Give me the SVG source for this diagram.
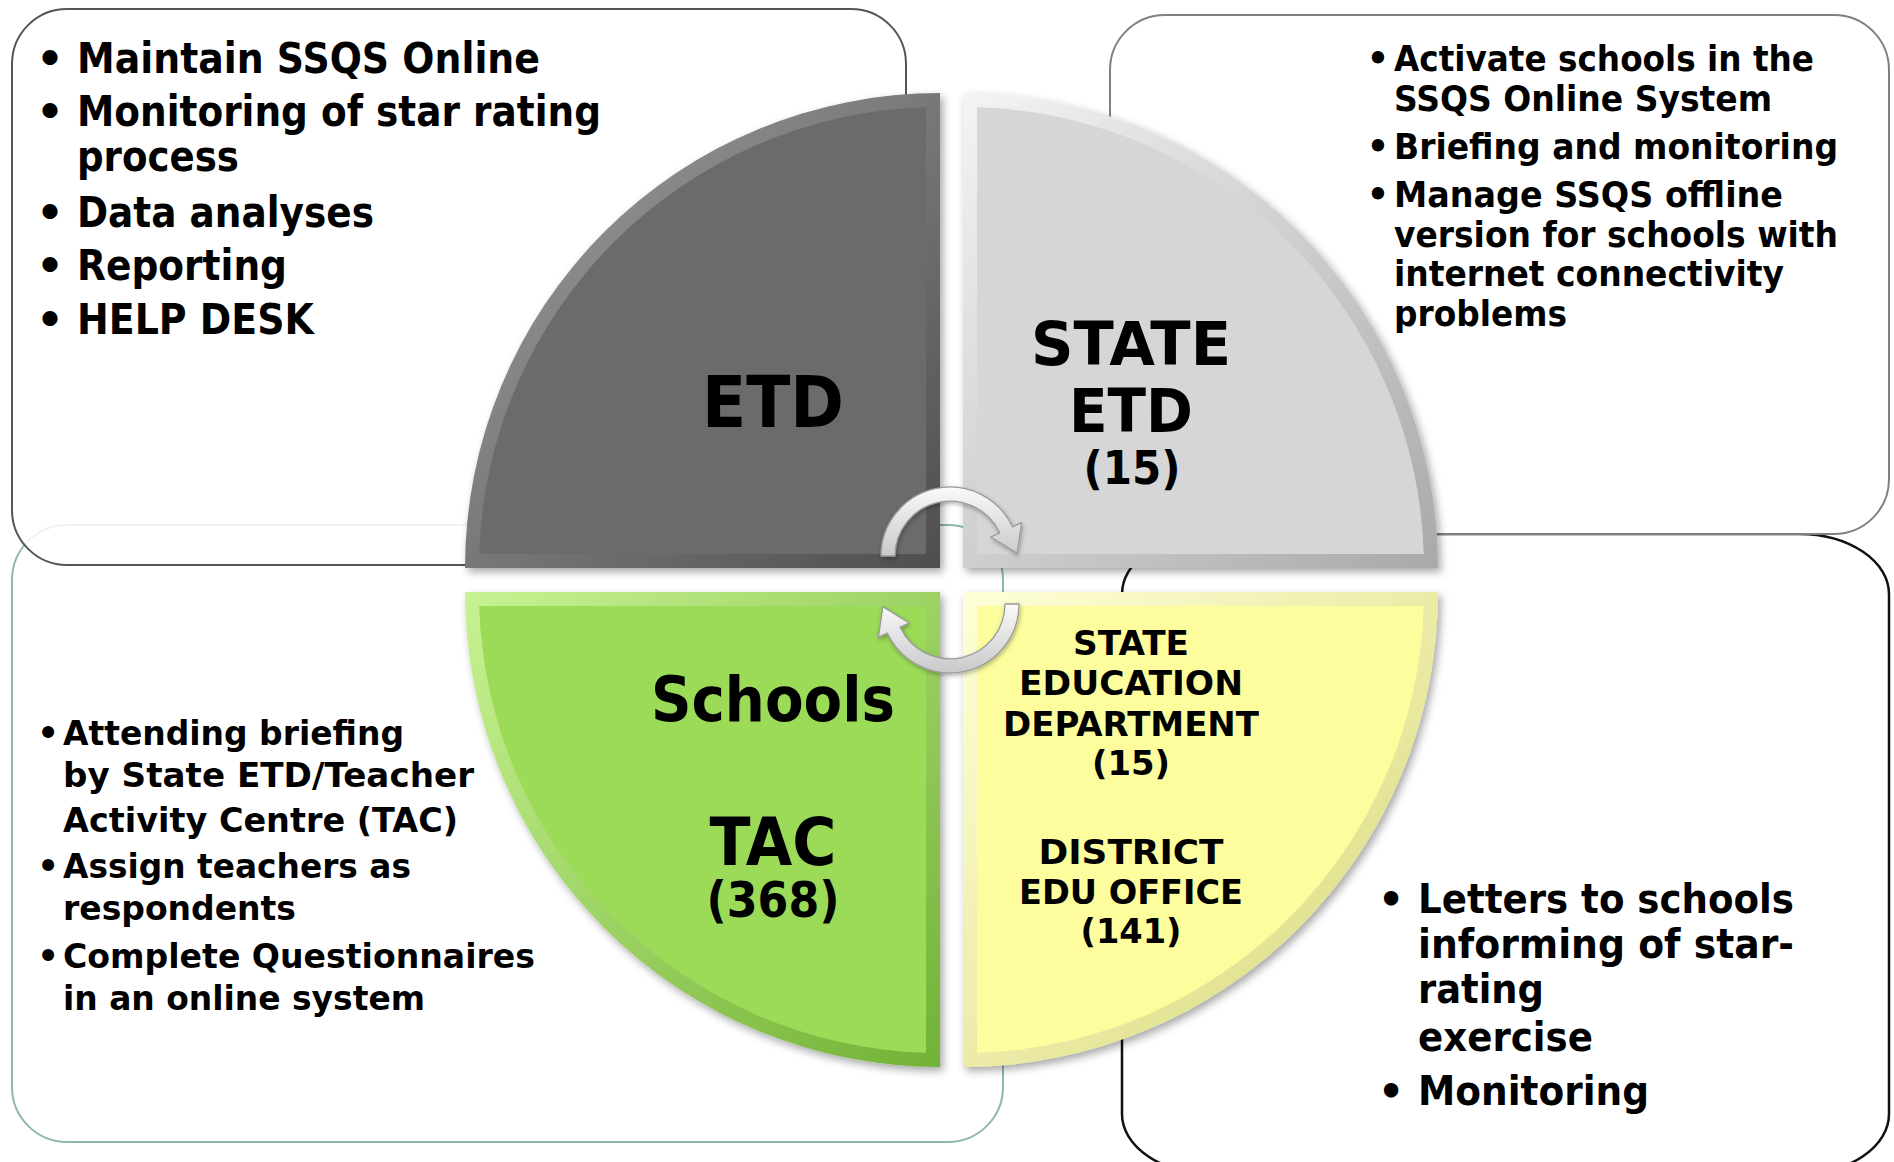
<svg xmlns="http://www.w3.org/2000/svg" width="1894" height="1162" viewBox="0 0 1894 1162">
<defs>
<style>
.t{font-family:"DejaVu Sans","Liberation Sans",sans-serif;font-weight:bold;fill:#000}
.s43{font-size:43px}.s35{font-size:35px}.s34{font-size:34px}.s41{font-size:41px}
.lbl{text-anchor:middle}
.box{fill:#fff}
.arrow{fill:url(#gArrow);stroke:#9a9a9a;stroke-width:1.3;stroke-linejoin:round}
</style>
<linearGradient id="gEtd" x1="0" y1="0" x2="1" y2="1"><stop offset="0" stop-color="#a2a2a2"/><stop offset="1" stop-color="#4e4e4e"/></linearGradient>
<linearGradient id="gState" x1="0" y1="0" x2="1" y2="1"><stop offset="0" stop-color="#f4f4f4"/><stop offset="1" stop-color="#a9a9a9"/></linearGradient>
<linearGradient id="gGreen" x1="0" y1="0" x2="1" y2="1"><stop offset="0" stop-color="#c8f292"/><stop offset="1" stop-color="#72b236"/></linearGradient>
<linearGradient id="gYellow" x1="0" y1="0" x2="1" y2="1"><stop offset="0" stop-color="#ffffd8"/><stop offset="1" stop-color="#d8d878"/></linearGradient>
<linearGradient id="gArrow" x1="0" y1="0" x2="0" y2="1"><stop offset="0" stop-color="#fafafa"/><stop offset="1" stop-color="#c9c9c9"/></linearGradient>
<filter id="sh" x="-10%" y="-10%" width="120%" height="120%"><feDropShadow dx="3" dy="4" stdDeviation="4" flood-color="#000" flood-opacity="0.35"/></filter>
<filter id="shs" x="-10%" y="-10%" width="120%" height="120%"><feDropShadow dx="1" dy="2" stdDeviation="2" flood-color="#000" flood-opacity="0.3"/></filter>
</defs>
<rect width="1894" height="1162" fill="#fff"/>

<g id="box-sed-tasks">
<rect class="box" x="1122" y="534" width="767" height="640" rx="90" ry="60" stroke="#111" stroke-width="2.5"/>
<text class="t s41" x="1391" y="913" text-anchor="middle">•</text>
<text class="t s41" x="1418" y="913" textLength="376" lengthAdjust="spacingAndGlyphs">Letters to schools</text>
<text class="t s41" x="1418" y="958" textLength="376" lengthAdjust="spacingAndGlyphs">informing of star-</text>
<text class="t s41" x="1418" y="1003" textLength="126" lengthAdjust="spacingAndGlyphs">rating</text>
<text class="t s41" x="1418" y="1051" textLength="175" lengthAdjust="spacingAndGlyphs">exercise</text>
<text class="t s41" x="1391" y="1105" text-anchor="middle">•</text>
<text class="t s41" x="1418" y="1105" textLength="231" lengthAdjust="spacingAndGlyphs">Monitoring</text>
</g>

<g id="box-schools-tasks">
<rect class="box" x="12" y="525" width="991" height="617" rx="55" stroke="#8fb7b2" stroke-width="2"/>
<text class="t s34" x="48" y="745" text-anchor="middle">•</text>
<text class="t s34" x="63" y="745" textLength="341" lengthAdjust="spacingAndGlyphs">Attending briefing</text>
<text class="t s34" x="63" y="787" textLength="411" lengthAdjust="spacingAndGlyphs">by State ETD/Teacher</text>
<text class="t s34" x="63" y="832" textLength="395" lengthAdjust="spacingAndGlyphs">Activity Centre (TAC)</text>
<text class="t s34" x="48" y="878" text-anchor="middle">•</text>
<text class="t s34" x="63" y="878" textLength="348" lengthAdjust="spacingAndGlyphs">Assign teachers as</text>
<text class="t s34" x="63" y="920" textLength="233" lengthAdjust="spacingAndGlyphs">respondents</text>
<text class="t s34" x="48" y="968" text-anchor="middle">•</text>
<text class="t s34" x="63" y="968" textLength="472" lengthAdjust="spacingAndGlyphs">Complete Questionnaires</text>
<text class="t s34" x="63" y="1010" textLength="362" lengthAdjust="spacingAndGlyphs">in an online system</text>
</g>

<g id="box-state-etd-tasks">
<rect class="box" x="1110" y="15" width="779" height="519" rx="55" stroke="#808080" stroke-width="2"/>
<text class="t s35" x="1378" y="71" text-anchor="middle">•</text>
<text class="t s35" x="1394" y="71" textLength="420" lengthAdjust="spacingAndGlyphs">Activate schools in the</text>
<text class="t s35" x="1394" y="111" textLength="378" lengthAdjust="spacingAndGlyphs">SSQS Online System</text>
<text class="t s35" x="1378" y="159" text-anchor="middle">•</text>
<text class="t s35" x="1394" y="159" textLength="444" lengthAdjust="spacingAndGlyphs">Briefing and monitoring</text>
<text class="t s35" x="1378" y="207" text-anchor="middle">•</text>
<text class="t s35" x="1394" y="207" textLength="389" lengthAdjust="spacingAndGlyphs">Manage SSQS offline</text>
<text class="t s35" x="1394" y="247" textLength="444" lengthAdjust="spacingAndGlyphs">version for schools with</text>
<text class="t s35" x="1394" y="286" textLength="390" lengthAdjust="spacingAndGlyphs">internet connectivity</text>
<text class="t s35" x="1394" y="326" textLength="173" lengthAdjust="spacingAndGlyphs">problems</text>
</g>

<g id="box-etd-tasks">
<rect x="12" y="9" width="894" height="556" rx="55" fill="#fff" fill-opacity="0.85" stroke="#555" stroke-width="2"/>
<text class="t s43" x="50" y="73" text-anchor="middle">•</text>
<text class="t s43" x="77" y="73" textLength="463" lengthAdjust="spacingAndGlyphs">Maintain SSQS Online</text>
<text class="t s43" x="50" y="126" text-anchor="middle">•</text>
<text class="t s43" x="77" y="126" textLength="524" lengthAdjust="spacingAndGlyphs">Monitoring of star rating</text>
<text class="t s43" x="77" y="171" textLength="162" lengthAdjust="spacingAndGlyphs">process</text>
<text class="t s43" x="50" y="227" text-anchor="middle">•</text>
<text class="t s43" x="77" y="227" textLength="297" lengthAdjust="spacingAndGlyphs">Data analyses</text>
<text class="t s43" x="50" y="280" text-anchor="middle">•</text>
<text class="t s43" x="77" y="280" textLength="210" lengthAdjust="spacingAndGlyphs">Reporting</text>
<text class="t s43" x="50" y="334" text-anchor="middle">•</text>
<text class="t s43" x="77" y="334" textLength="237" lengthAdjust="spacingAndGlyphs">HELP DESK</text>
</g>

<g id="node-etd">
<path d="M940,568 L465,568 A475,475 0 0 1 940,93 Z" fill="url(#gEtd)" filter="url(#sh)"/>
<path d="M926,554 L479.2,554 A461,461 0 0 1 926,107.2 Z" fill="#6b6b6b"/>
<text class="t lbl" x="773" y="427" font-size="71" textLength="142" lengthAdjust="spacingAndGlyphs">ETD</text>
</g>

<g id="node-state-etd">
<path d="M963,568 L963,93 A475,475 0 0 1 1438,568 Z" fill="url(#gState)" filter="url(#sh)"/>
<path d="M977,554 L977,107.2 A461,461 0 0 1 1423.8,554 Z" fill="#d6d6d6"/>
<text class="t lbl" x="1131" y="365" font-size="60" textLength="200" lengthAdjust="spacingAndGlyphs">STATE</text>
<text class="t lbl" x="1131" y="432" font-size="60" textLength="124" lengthAdjust="spacingAndGlyphs">ETD</text>
<text class="t lbl" x="1132" y="484" font-size="46" textLength="97" lengthAdjust="spacingAndGlyphs">(15)</text>
</g>

<g id="node-schools">
<path d="M940,592 L940,1067 A475,475 0 0 1 465,592 Z" fill="url(#gGreen)" filter="url(#sh)"/>
<path d="M926,606 L926,1052.8 A461,461 0 0 1 479.2,606 Z" fill="#9bdb58"/>
<text class="t lbl" x="773" y="721" font-size="62" textLength="244" lengthAdjust="spacingAndGlyphs">Schools</text>
<text class="t lbl" x="773" y="865" font-size="66" textLength="127" lengthAdjust="spacingAndGlyphs">TAC</text>
<text class="t lbl" x="773" y="917" font-size="50" textLength="133" lengthAdjust="spacingAndGlyphs">(368)</text>
</g>

<g id="node-sed">
<path d="M963,592 L1438,592 A475,475 0 0 1 963,1067 Z" fill="url(#gYellow)" filter="url(#sh)"/>
<path d="M977,606 L1423.8,606 A461,461 0 0 1 977,1052.8 Z" fill="#fdfd9e"/>
<text class="t lbl" x="1131" y="655" font-size="34" textLength="116" lengthAdjust="spacingAndGlyphs">STATE</text>
<text class="t lbl" x="1131" y="695" font-size="34" textLength="224" lengthAdjust="spacingAndGlyphs">EDUCATION</text>
<text class="t lbl" x="1131" y="736" font-size="34" textLength="256" lengthAdjust="spacingAndGlyphs">DEPARTMENT</text>
<text class="t lbl" x="1131" y="775" font-size="34" textLength="78" lengthAdjust="spacingAndGlyphs">(15)</text>
<text class="t lbl" x="1131" y="864" font-size="34" textLength="185" lengthAdjust="spacingAndGlyphs">DISTRICT</text>
<text class="t lbl" x="1131" y="904" font-size="34" textLength="224" lengthAdjust="spacingAndGlyphs">EDU OFFICE</text>
<text class="t lbl" x="1131" y="943" font-size="34" textLength="101" lengthAdjust="spacingAndGlyphs">(141)</text>
</g>

<g id="connectors">
<path class="arrow" filter="url(#shs)" d="M881,556 A69,69 0 0 1 1012.5,526.8 L1021.6,522.6 L1017.2,553.4 L990.8,537 L999.8,532.8 A55,55 0 0 0 895,556 Z"/>
<path class="arrow" filter="url(#shs)" d="M1019,604 A69,69 0 0 1 887.5,633.2 L878.4,637.4 L882.8,606.6 L909.2,623 L900.2,627.2 A55,55 0 0 0 1005,604 Z"/>
</g>
</svg>
